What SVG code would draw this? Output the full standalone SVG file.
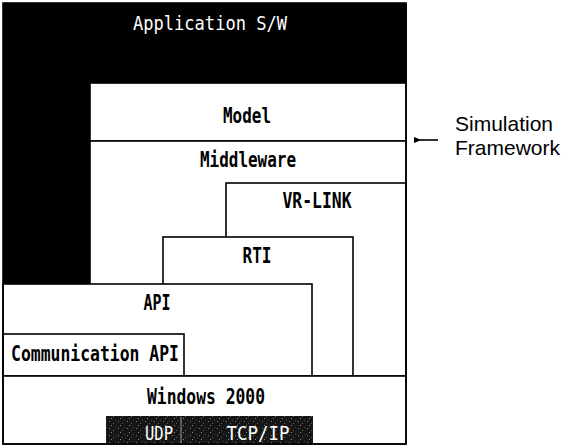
<svg xmlns="http://www.w3.org/2000/svg" width="570" height="447" viewBox="0 0 570 447">
  <style>
    .box { fill: #ffffff; stroke: #000000; stroke-width: 1.6; }
    .lbl { font-family: "DejaVu Sans Mono", "Liberation Mono", monospace; font-size: 21px; font-weight: bold; fill: #000000; }
    .lbl-w { font-family: "DejaVu Sans Mono", "Liberation Mono", monospace; font-size: 20px; fill: #ffffff; }
    .lbl-s { font-family: "DejaVu Sans Mono", "Liberation Mono", monospace; font-size: 20px; fill: #ffffff; }
    .note { font-family: "Liberation Sans", Arial, sans-serif; font-size: 21px; fill: #000000; }
    .conn { stroke: #000000; stroke-width: 1.6; fill: none; }
  </style>
  <defs>
    <marker id="arrowhead" viewBox="0 0 10 10" refX="2" refY="5" markerWidth="8" markerHeight="8" orient="auto" markerUnits="userSpaceOnUse">
      <path d="M10,1 L0,5 L10,9 Z" fill="#000000"/>
    </marker>
    <!-- speckled dark fill for the protocol strip -->
    <pattern id="grain" width="9" height="7" patternUnits="userSpaceOnUse">
      <rect width="9" height="7" fill="#161616"/>
      <rect x="1" y="1" width="1" height="1" fill="#7a7a7a"/>
      <rect x="5" y="3" width="1" height="1" fill="#5e5e5e"/>
      <rect x="3" y="5" width="1" height="1" fill="#8a8a8a"/>
      <rect x="7" y="0" width="1" height="1" fill="#444444"/>
    </pattern>
  </defs>

  <rect width="570" height="447" fill="#ffffff"/>

  <g id="application">
    <path d="M3,3 H407 V83 H90 V284 H3 Z" fill="#000000"/>
    <text class="lbl-w" x="210" y="30" text-anchor="middle" textLength="154" lengthAdjust="spacingAndGlyphs">Application S/W</text>
  </g>

  <g id="model">
    <rect class="box" x="90" y="83" width="316" height="58"/>
    <text class="lbl" x="247" y="123" text-anchor="middle" textLength="48" lengthAdjust="spacingAndGlyphs">Model</text>
  </g>

  <g id="middleware">
    <rect class="box" x="90" y="141" width="316" height="235"/>
    <text class="lbl" x="248" y="167" text-anchor="middle" textLength="96" lengthAdjust="spacingAndGlyphs">Middleware</text>
  </g>

  <g id="vr-link">
    <rect class="box" x="226" y="183" width="180" height="193"/>
    <text class="lbl" x="317" y="208" text-anchor="middle" textLength="69" lengthAdjust="spacingAndGlyphs">VR-LINK</text>
  </g>

  <g id="rti">
    <rect class="box" x="163" y="237" width="190" height="139"/>
    <text class="lbl" x="257" y="263" text-anchor="middle" textLength="29" lengthAdjust="spacingAndGlyphs">RTI</text>
  </g>

  <g id="api">
    <rect class="box" x="3" y="284" width="309" height="92"/>
    <text class="lbl" x="157" y="310" text-anchor="middle" textLength="27" lengthAdjust="spacingAndGlyphs">API</text>
  </g>

  <g id="communication-api">
    <rect class="box" x="3" y="334" width="181" height="42"/>
    <text class="lbl" x="95" y="361" text-anchor="middle" textLength="168" lengthAdjust="spacingAndGlyphs">Communication API</text>
  </g>

  <g id="windows">
    <rect class="box" x="3" y="376" width="403" height="68"/>
    <text class="lbl" x="206" y="404" text-anchor="middle" textLength="118" lengthAdjust="spacingAndGlyphs">Windows 2000</text>
  </g>

  <g id="protocols">
    <rect x="106" y="416" width="207" height="28" fill="url(#grain)"/>
    <line x1="181" y1="417" x2="181" y2="443" stroke="#9a9a9a" stroke-width="1"/>
    <text class="lbl-s" x="159" y="440" text-anchor="middle" textLength="28" lengthAdjust="spacingAndGlyphs">UDP</text>
    <text class="lbl-s" x="258" y="440" text-anchor="middle" textLength="63" lengthAdjust="spacingAndGlyphs">TCP/IP</text>
  </g>

  <g id="frame">
    <rect x="3" y="3" width="403" height="441" fill="none" stroke="#000000" stroke-width="1.6"/>
  </g>

  <g id="connectors">
    <line class="conn" x1="438" y1="140" x2="420" y2="140" marker-end="url(#arrowhead)"/>
  </g>

  <g id="simulation-framework">
    <text class="note" x="455" y="131">Simulation</text>
    <text class="note" x="455" y="155">Framework</text>
  </g>
</svg>
